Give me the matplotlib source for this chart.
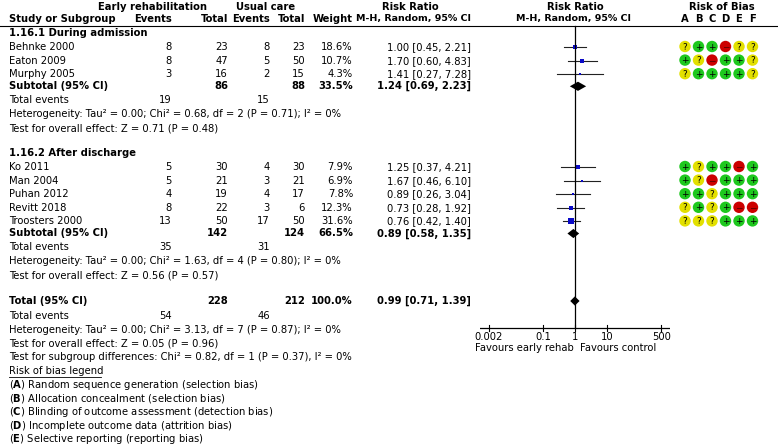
import numpy as np
import matplotlib
matplotlib.use("Agg")
import matplotlib.pyplot as plt
from matplotlib.patches import Circle

# study level data
studies = ["Behnke 2000", "Eaton 2009", "Murphy 2005",
           "Ko 2011", "Man 2004", "Puhan 2012", "Revitt 2018", "Troosters 2000"]
group = [0, 0, 0, 1, 1, 1, 1, 1]
ev_early = [8, 8, 3, 5, 5, 4, 8, 13]
n_early = [23, 47, 16, 30, 21, 19, 22, 50]
ev_usual = [8, 5, 2, 4, 3, 4, 3, 17]
n_usual = [23, 50, 15, 30, 21, 17, 6, 50]
weight = [18.6, 10.7, 4.3, 7.9, 6.9, 7.8, 12.3, 31.6]
rr = [1.00, 1.70, 1.41, 1.25, 1.67, 0.89, 0.73, 0.76]
rr_lo = [0.45, 0.60, 0.27, 0.37, 0.46, 0.26, 0.28, 0.42]
rr_hi = [2.21, 4.83, 7.28, 4.21, 6.10, 3.04, 1.92, 1.40]
rob = ["?++-??", "+?-++?", "?++++?", "+?++-+", "+?-+++", "++?+++", "?+?+--", "???+++"]

# subgroup data
sub_names = ["1.16.1 During admission", "1.16.2 After discharge"]
sub_n_early = [86, 142]
sub_n_usual = [88, 124]
sub_ev_early = [19, 35]
sub_ev_usual = [15, 31]
sub_weight = [33.5, 66.5]
sub_rr = [1.24, 0.89]
sub_lo = [0.69, 0.58]
sub_hi = [2.23, 1.35]
sub_chi = ["0.68", "1.63"]
sub_df = [2, 4]
sub_p = ["0.71", "0.80"]
sub_z = ["0.71", "0.56"]
sub_pz = ["0.48", "0.57"]

# overall
tot_n = [228, 212]
tot_ev = [54, 46]
tot_rr, tot_lo, tot_hi = 0.99, 0.71, 1.39

ticks = [0.002, 0.1, 1, 10, 500]
tick_labels = ["0.002", "0.1", "1", "10", "500"]
legend_items = [("A", "Random sequence generation (selection bias)"),
                ("B", "Allocation concealment (selection bias)"),
                ("C", "Blinding of outcome assessment (detection bias)"),
                ("D", "Incomplete outcome data (attrition bias)"),
                ("E", "Selective reporting (reporting bias)")]

W, H = 778, 445
FS = 7.2
fig = plt.figure(figsize=(W / 100, H / 100), dpi=100)
ax = fig.add_axes([0, 0, 1, 1])
ax.set_xlim(0, W)
ax.set_ylim(H, 0)
ax.axis("off")

# forest panel, x in log scale, y in pixels
fx = fig.add_axes([480 / W, 0, 190 / W, 1])
fx.set_xscale("log")
fx.set_xlim(10 ** -2.97, 10 ** 2.97)
fx.set_ylim(H, 0)
fx.axis("off")

# column positions
X_NAME, X_EVE, X_TOTE, X_EVU, X_TOTU, X_W, X_RR = 9, 172, 228, 270, 305, 353, 471
ROB_X = [685, 698.5, 712, 725.5, 739, 752.5]
rob_col = {"?": "#e3e000", "+": "#1ec81e", "-": "#cc0000"}
rob_sym = {"?": "?", "+": "+", "-": "\u2212"}


def txt(x, y, s, ha="left", bold=False, fs=FS, **kw):
    ax.text(x, y, s, ha=ha, va="center", fontsize=fs,
            fontweight="bold" if bold else "normal", **kw)


def diamond(y, est, lo, hi, h=4.6):
    fx.fill([lo, est, hi, est], [y, y - h, y, y + h], color="black", lw=0, clip_on=False)


# headers
txt(153, 7, "Early rehabilitation", ha="center", bold=True)
txt(266, 7, "Usual care", ha="center", bold=True)
txt(410, 7, "Risk Ratio", ha="center", bold=True)
txt(575, 7, "Risk Ratio", ha="center", bold=True)
txt(722, 7, "Risk of Bias", ha="center", bold=True)
txt(X_NAME, 19, "Study or Subgroup", bold=True)
txt(X_EVE, 19, "Events", ha="right", bold=True)
txt(X_TOTE, 19, "Total", ha="right", bold=True)
txt(X_EVU, 19, "Events", ha="right", bold=True)
txt(X_TOTU, 19, "Total", ha="right", bold=True)
txt(X_W, 19, "Weight", ha="right", bold=True)
txt(X_RR, 19, "M-H, Random, 95% CI", ha="right", bold=True, fs=6.8)
txt(574, 19, "M-H, Random, 95% CI", ha="center", bold=True, fs=6.8)
for x, c in zip(ROB_X, "ABCDEF"):
    txt(x, 19, c, ha="center", bold=True)
ax.plot([0, W], [26, 26], color="black", lw=0.8)

group_y = [33, 153]
for g in range(2):
    y = group_y[g]
    txt(X_NAME, y, sub_names[g], bold=True)
    y += 14
    for i in [k for k in range(len(studies)) if group[k] == g]:
        txt(X_NAME, y, studies[i])
        txt(X_EVE, y, str(ev_early[i]), ha="right")
        txt(X_TOTE, y, str(n_early[i]), ha="right")
        txt(X_EVU, y, str(ev_usual[i]), ha="right")
        txt(X_TOTU, y, str(n_usual[i]), ha="right")
        txt(X_W, y, f"{weight[i]:.1f}%", ha="right")
        txt(X_RR, y, f"{rr[i]:.2f} [{rr_lo[i]:.2f}, {rr_hi[i]:.2f}]", ha="right")
        fx.plot([rr_lo[i], rr_hi[i]], [y, y], color="#222222", lw=0.8, clip_on=False)
        side = 1.07 * np.sqrt(weight[i]) * 0.72
        fx.plot([rr[i]], [y], marker="s", ms=side, color="#0a0ac8", mew=0, clip_on=False)
        for x, r in zip(ROB_X, rob[i]):
            ax.add_patch(Circle((x, y - 0.5), 5.7, color=rob_col[r], lw=0))
            ax.text(x, y, rob_sym[r], ha="center", va="center", fontsize=6.5,
                    color="black" if r != "-" else "#550000")
        y += 13.6
    y -= 1.5
    txt(X_NAME, y, "Subtotal (95% CI)", bold=True)
    txt(X_TOTE, y, str(sub_n_early[g]), ha="right", bold=True)
    txt(X_TOTU, y, str(sub_n_usual[g]), ha="right", bold=True)
    txt(X_W, y, f"{sub_weight[g]:.1f}%", ha="right", bold=True)
    txt(X_RR, y, f"{sub_rr[g]:.2f} [{sub_lo[g]:.2f}, {sub_hi[g]:.2f}]", ha="right", bold=True)
    diamond(y, sub_rr[g], sub_lo[g], sub_hi[g])
    y += 13.8
    txt(X_NAME, y, "Total events")
    txt(X_EVE, y, str(sub_ev_early[g]), ha="right")
    txt(X_EVU, y, str(sub_ev_usual[g]), ha="right")
    y += 14.2
    txt(X_NAME, y, f"Heterogeneity: Tau\u00b2 = 0.00; Chi\u00b2 = {sub_chi[g]}, df = {sub_df[g]} "
                   f"(P = {sub_p[g]}); I\u00b2 = 0%")
    y += 14.5
    txt(X_NAME, y, f"Test for overall effect: Z = {sub_z[g]} (P = {sub_pz[g]})")

# overall
y = 301
txt(X_NAME, y, "Total (95% CI)", bold=True)
txt(X_TOTE, y, str(tot_n[0]), ha="right", bold=True)
txt(X_TOTU, y, str(tot_n[1]), ha="right", bold=True)
txt(X_W, y, "100.0%", ha="right", bold=True)
txt(X_RR, y, f"{tot_rr:.2f} [{tot_lo:.2f}, {tot_hi:.2f}]", ha="right", bold=True)
diamond(y, tot_rr, tot_lo, tot_hi)
txt(X_NAME, 316, "Total events")
txt(X_EVE, 316, str(tot_ev[0]), ha="right")
txt(X_EVU, 316, str(tot_ev[1]), ha="right")
txt(X_NAME, 330, "Heterogeneity: Tau\u00b2 = 0.00; Chi\u00b2 = 3.13, df = 7 (P = 0.87); I\u00b2 = 0%")
txt(X_NAME, 344, "Test for overall effect: Z = 0.05 (P = 0.96)")
txt(X_NAME, 357.5, "Test for subgroup differences: Chi\u00b2 = 0.82, df = 1 (P = 0.37), I\u00b2 = 0%")
txt(X_NAME, 371, "Risk of bias legend")
ax.plot([X_NAME, 101], [376.5, 376.5], color="black", lw=0.6)
for k, (letter, desc) in enumerate(legend_items):
    txt(X_NAME, 385 + k * 13.6, r"($\mathbf{" + letter + r"}$) " + desc)

# forest axis
AX_Y = 328
fx.plot([1, 1], [26, AX_Y], color="black", lw=0.9)
lo_lim, hi_lim = fx.get_xlim()
fx.plot([lo_lim, hi_lim], [AX_Y, AX_Y], color="black", lw=0.9)
for tv, tl in zip(ticks, tick_labels):
    fx.plot([tv, tv], [AX_Y - 3, AX_Y + 3], color="black", lw=0.8)
    fx.text(tv, AX_Y + 8.5, tl, ha="center", va="center", fontsize=FS)
txt(475, 348, "Favours early rehab")
txt(580, 348, "Favours control")

fig.savefig("out.png", dpi=100)
